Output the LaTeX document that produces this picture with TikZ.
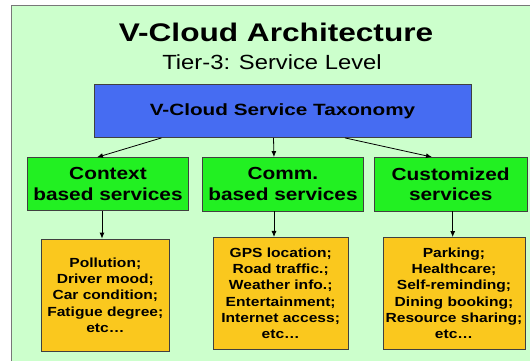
\documentclass[tikz,border=0pt]{standalone}
\usepackage{fontspec}
\setmainfont{Liberation Sans}
\newfontfamily\ftitle[FakeStretch=1.24]{Liberation Sans}
\newfontfamily\fsub[FakeStretch=1.16]{Liberation Sans}
\newfontfamily\fblue[FakeStretch=1.27]{Liberation Sans}
\newfontfamily\fgreen[FakeStretch=1.19]{Liberation Sans}
\newfontfamily\fyel[FakeStretch=1.18]{Liberation Sans}
\usetikzlibrary{arrows.meta}
\definecolor{panelgreen}{RGB}{204,255,204}
\definecolor{panelborder}{RGB}{120,120,120}
\definecolor{taxblue}{RGB}{70,108,242}
\definecolor{boxgreen}{RGB}{34,240,34}
\definecolor{boxyellow}{RGB}{250,200,30}
\tikzset{
  box/.style={draw=black!75, line width=0.8pt, inner sep=0pt, align=center, text=black},
  bluebox/.style={box, fill=taxblue, font=\fblue\bfseries\fontsize{16.3}{19}\selectfont},
  greenbox/.style={box, fill=boxgreen, font=\fgreen\bfseries\fontsize{17.5}{20.5}\selectfont},
  yelbox/.style={box, fill=boxyellow, font=\fyel\bfseries\fontsize{13.2}{16.3}\selectfont},
  arr/.style={draw=black, line width=0.8pt, -{Latex[length=6pt,width=5pt]}}
}
\begin{document}
\begin{tikzpicture}[x=1pt,y=-1pt]
\useasboundingbox (0,0) rectangle (530,360);
\fill[white] (0,0) rectangle (530,360);
\begin{scope}
\clip (0,0) rectangle (530,360);
\draw[fill=panelgreen, draw=panelborder, line width=1.6pt] (11.5,5.5) rectangle (540,370);
\end{scope}

\node[anchor=base, font=\ftitle\bfseries\fontsize{25.5}{30}\selectfont] (title) at (276,41.7) {V-Cloud Architecture};
\node[anchor=base, font=\fsub\fontsize{20.5}{24}\selectfont] (sub) at (272,69.2) {Tier-3: Service Level};

\node[bluebox, minimum width=377pt, minimum height=53pt] (tax) at (282.5,111) {V-Cloud Service Taxonomy};

\node[greenbox, minimum width=160.5pt, minimum height=53pt] (g1) at (108,184.2) {Context\\based services};
\node[greenbox, minimum width=160.5pt, minimum height=53.5pt] (g2) at (283,184.2) {Comm.\\based services};
\node[greenbox, minimum width=152.5pt, minimum height=53.5pt] (g3) at (450.7,184.2) {Customized\\services};

\node[yelbox, minimum width=127.3pt, minimum height=112pt] (y1) at (105.3,295) {Pollution;\\Driver mood;\\Car condition;\\Fatigue degree;\\etc…};
\node[yelbox, minimum width=135.5pt, minimum height=111.7pt] (y2) at (280.7,293.2) {GPS location;\\Road traffic.;\\Weather info.;\\Entertainment;\\Internet access;\\etc…};
\node[yelbox, minimum width=142pt, minimum height=111.5pt] (y3) at (454,293.2) {Parking;\\Healthcare;\\Self-reminding;\\Dining booking;\\Resource sharing;\\etc…};

\draw[arr] ([xshift=-121pt]tax.south) -- ([xshift=-11pt]g1.north);
\draw[arr] ([xshift=-9pt]tax.south) -- ([xshift=-9pt]g2.north);
\draw[arr] ([xshift=62.5pt]tax.south) -- ([xshift=-18.7pt]g3.north);

\draw[arr] ([xshift=-6pt]g1.south) -- ([xshift=-3.3pt]y1.north);
\draw[arr] ([xshift=-9pt]g2.south) -- ([xshift=-6.7pt]y2.north);
\draw[arr] ([xshift=2pt]g3.south) -- ([xshift=-1.3pt]y3.north);
\end{tikzpicture}
\end{document}
